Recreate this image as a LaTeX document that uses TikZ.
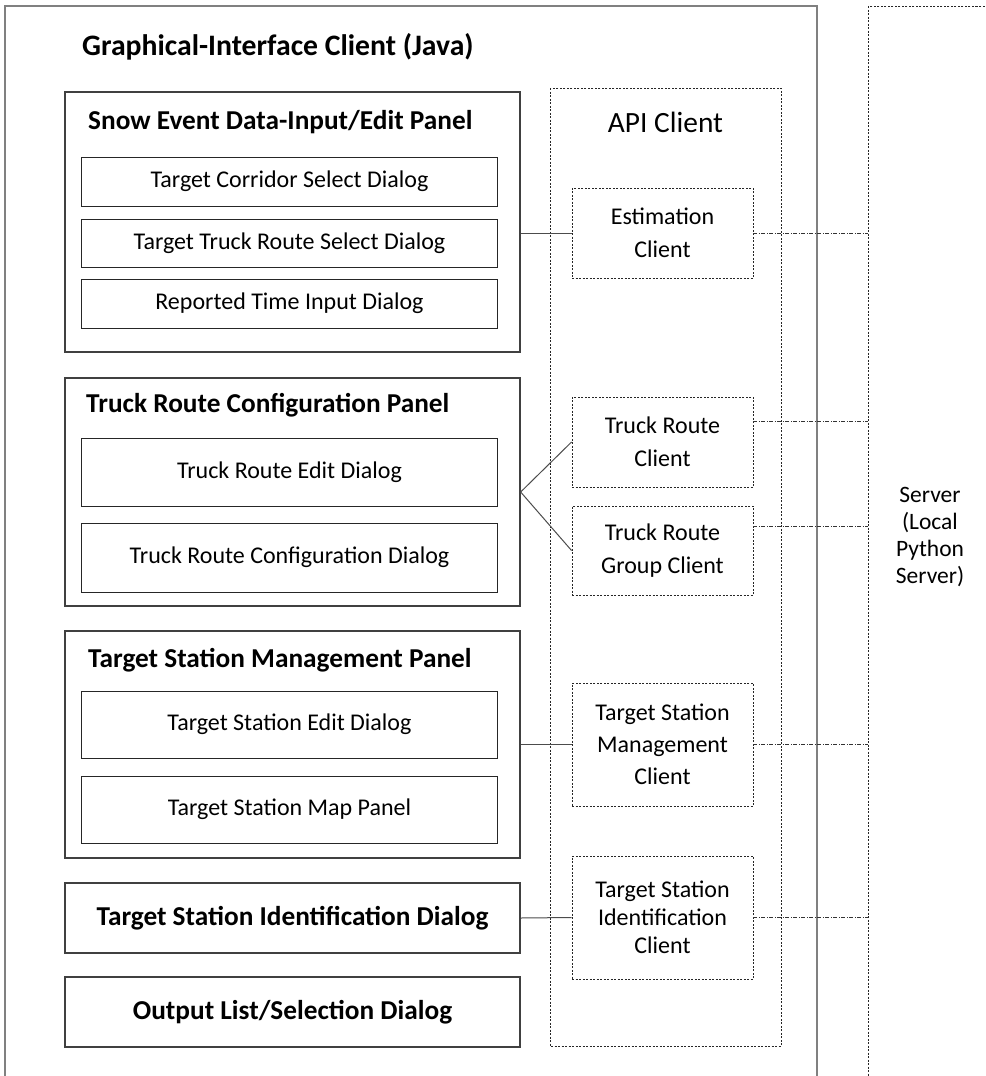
\documentclass[tikz,border=0pt]{standalone}
\usepackage{fontspec}
\setmainfont{Carlito}
\begin{document}
\begin{tikzpicture}[
    x=1bp, y=-1bp,
    outerbox/.style={draw=black!50, line width=1.6bp},
    panel/.style={draw=black!75, line width=1.3bp, inner sep=0pt, minimum width=455bp},
    dialog/.style={draw=black!85, line width=1bp, inner sep=0pt, minimum width=415bp, font=\fontsize{24bp}{28bp}\selectfont},
    bigdialog/.style={dialog, draw=black!75, line width=1.3bp, minimum width=455bp, font=\fontsize{27.3bp}{32bp}\selectfont\bfseries},
    heading/.style={anchor=west, inner sep=0pt, font=\fontsize{27.3bp}{32bp}\selectfont\bfseries},
    dotbox/.style={draw=black!85, line width=0.9bp, dash pattern=on 2bp off 1.5bp},
    client/.style={dotbox, inner sep=0pt, minimum width=181bp, align=center, font=\fontsize{24bp}{33bp}\selectfont},
    link/.style={draw=black!70, line width=1bp},
    serverlink/.style={draw=black!80, line width=0.8bp, dash pattern=on 4bp off 1.5bp on 1bp off 1.5bp}
]
\useasboundingbox (0,0) rectangle (986,1076);
\clip (0,0) rectangle (986,1076);

% containers
\draw[outerbox] (5,6) rectangle (817,1100);
\draw[dotbox] (550,88) rectangle (781,1046);
\draw[dotbox] (868,6) rectangle (1010,1100);
\coordinate (srv) at (868,0);

\node[heading, font=\fontsize{29.7bp}{34bp}\selectfont\bfseries] (guititle) at (82,47) {Graphical-Interface Client (Java)};
\node[font=\fontsize{29.4bp}{34bp}\selectfont] (apititle) at (665.5,122) {API Client};
\node[align=center, font=\fontsize{23.5bp}{27bp}\selectfont] (server) at (930,537) {Server\\(Local\\Python\\Server)};

% panels and dialogs
\node[panel, minimum height=260bp] (snowpanel) at (292.5,222) {};
\node[heading] (snowtitle) at (88,122) {Snow Event Data-Input/Edit Panel};
\node[dialog, minimum height=49bp] (corridor) at (289.5,181.5) {Target Corridor Select Dialog};
\node[dialog, minimum height=48bp] (routesel) at (289.5,243) {Target Truck Route Select Dialog};
\node[dialog, minimum height=49bp] (timein) at (289.5,303.5) {Reported Time Input Dialog};

\node[panel, minimum height=228bp] (routepanel) at (292.5,492) {};
\node[heading] (routetitle) at (86,405) {Truck Route Configuration Panel};
\node[dialog, minimum height=68bp] (routeedit) at (289.5,472) {Truck Route Edit Dialog};
\node[dialog, minimum height=69bp] (routeconf) at (289.5,557.5) {Truck Route Configuration Dialog};

\node[panel, minimum height=227bp] (stationpanel) at (292.5,744.5) {};
\node[heading] (stationtitle) at (88,660) {Target Station Management Panel};
\node[dialog, minimum height=67bp] (stationedit) at (289.5,724.5) {Target Station Edit Dialog};
\node[dialog, minimum height=67bp] (stationmap) at (289.5,809.5) {Target Station Map Panel};

\node[bigdialog, minimum height=70bp] (identdlg) at (292.5,918) {Target Station Identification Dialog};
\node[bigdialog, minimum height=70bp] (outdlg) at (292.5,1012) {Output List/Selection Dialog};

% api clients
\node[client, minimum height=90bp] (estc) at (662.5,233) {Estimation\\Client};
\node[client, minimum height=90bp] (routec) at (662.5,442) {Truck Route\\Client};
\node[client, minimum height=89bp] (groupc) at (662.5,550.5) {Truck Route\\Group Client};
\node[client, minimum height=123bp, font=\fontsize{24bp}{32bp}\selectfont] (managec) at (662.5,744.5) {Target Station\\Management\\Client};
\node[client, minimum height=123bp, font=\fontsize{24bp}{28bp}\selectfont] (identc) at (662.5,917.5) {Target Station\\Identification\\Client};

% links to clients
\draw[link] (snowpanel.east |- estc.west) -- (estc.west);
\draw[link] (routepanel.east) -- (routec.west);
\draw[link] (routepanel.east) -- (groupc.west);
\draw[link] (stationpanel.east) -- (managec.west);
\draw[link] (identdlg.east) -- (identc.west);

% links to server
\draw[serverlink] (estc.east) -- (estc.east -| srv);
\draw[serverlink] ([yshift=21bp]routec.east) -- ([yshift=21bp]routec.east -| srv);
\draw[serverlink] ([yshift=24bp]groupc.east) -- ([yshift=24bp]groupc.east -| srv);
\draw[serverlink] (managec.east) -- (managec.east -| srv);
\draw[serverlink] (identc.east) -- (identc.east -| srv);

\end{tikzpicture}
\end{document}
